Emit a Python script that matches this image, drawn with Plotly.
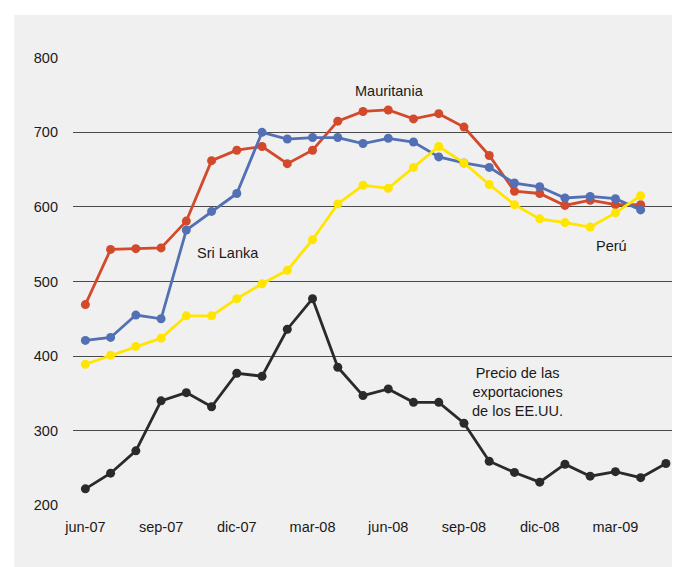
import plotly.graph_objects as go

months = ["jun-07","jul-07","ago-07","sep-07","oct-07","nov-07","dic-07","ene-08","feb-08","mar-08",
          "abr-08","may-08","jun-08","jul-08","ago-08","sep-08","oct-08","nov-08","dic-08","ene-09",
          "feb-09","mar-09","abr-09","may-09"]
x_idx = list(range(len(months)))

usa = [222,243,273,340,351,332,377,373,436,477,385,347,356,338,338,310,259,244,231,255,239,245,237,256]
mauritania = [469,543,544,545,581,662,676,681,658,676,715,728,730,718,725,707,669,621,618,602,609,603,603]
sri_lanka = [421,425,455,450,569,594,618,700,691,693,693,685,692,687,667,659,653,632,627,612,614,611,596]
peru = [389,401,413,424,454,454,477,497,515,556,604,629,625,653,681,659,630,603,584,579,573,592,615]

tick_vals = [0,3,6,9,12,15,18,21]
tick_text = ["jun-07","sep-07","dic-07","mar-08","jun-08","sep-08","dic-08","mar-09"]
y_ticks = [200,300,400,500,600,700,800]

FONT = "Liberation Sans, Arial, Helvetica, sans-serif"

fig = go.Figure()

def add(vals, color, name):
    fig.add_trace(go.Scatter(
        x=x_idx[:len(vals)], y=vals, mode="lines+markers", name=name,
        line=dict(color=color, width=2.8),
        marker=dict(color=color, size=9),
        cliponaxis=False,
        showlegend=False, hoverinfo="skip"))

add(usa, "#2a2a2a", "EE.UU.")
add(mauritania, "#d3492b", "Mauritania")
add(sri_lanka, "#5270b3", "Sri Lanka")
add(peru, "#ffe500", "Perú")

# page body has an 8px margin; work in window pixels and shift
OFF = 8
W, H = 680 - OFF, 567 - OFF
L = 72.7 - OFF
T = 57.25 - OFF
R = W - (675 - OFF)
B = H - (506.45 - OFF)
pw = W - L - R
ph = H - T - B

def px2paper_x(px):
    return (px - OFF - L) / pw

def px2paper_y(py):
    return (H - B - (py - OFF)) / ph

fig.add_shape(type="rect", xref="paper", yref="paper",
              x0=px2paper_x(14), x1=px2paper_x(700),
              y0=px2paper_y(600), y1=px2paper_y(15),
              fillcolor="#f0f0f0", line=dict(width=0), layer="below")

labels = [
    ("Mauritania", 389, 91),
    ("Sri Lanka", 227.5, 253),
    ("Perú", 611.5, 246),
    ("Precio de las<br>exportaciones<br>de los EE.UU.", 517, 392.5),
]
for text, xpx, ypx in labels:
    fig.add_annotation(text=text, xref="paper", yref="paper",
                       x=px2paper_x(xpx), y=px2paper_y(ypx),
                       xanchor="center", yanchor="middle", showarrow=False,
                       align="center",
                       font=dict(family=FONT, size=14.5, color="#1a1a1a"))

fig.update_layout(
    width=W, height=H,
    margin=dict(l=L, r=R, t=T, b=B, pad=0),
    paper_bgcolor="white",
    plot_bgcolor="rgba(0,0,0,0)",
    font=dict(family=FONT, size=14.5, color="#1a1a1a"),
)
fig.update_xaxes(range=[-0.49, 23.36], tickvals=tick_vals, ticktext=tick_text,
                 showgrid=False, zeroline=False, showline=False, ticks="",
                 ticklabelstandoff=10, fixedrange=True)
fig.update_yaxes(range=[199, 801], tickvals=y_ticks, showgrid=True,
                 gridcolor="#4a4a4a", gridwidth=1.2, zeroline=False, showline=False,
                 ticks="", ticklabelstandoff=14, fixedrange=True)

fig.write_html("out.html", config={"displayModeBar": False})
